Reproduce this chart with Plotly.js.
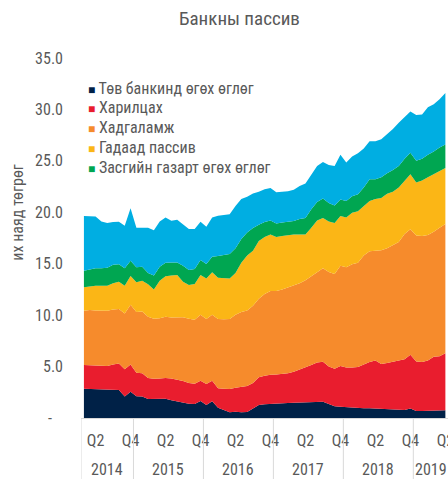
<!DOCTYPE html>
<html>
<head>
<meta charset="utf-8">
<script src="https://cdn.plot.ly/plotly-3.0.1.min.js"></script>
<style>html,body{margin:0;padding:0;background:#fff;}#chart{width:448px;height:479px;}</style>
</head>
<body>
<div id="chart"></div>
<script>
// Monthly periods (Apr 2014 – Jun 2019)
const months = [
 '2014-04','2014-05','2014-06','2014-07','2014-08','2014-09','2014-10','2014-11','2014-12',
 '2015-01','2015-02','2015-03','2015-04','2015-05','2015-06','2015-07','2015-08','2015-09','2015-10','2015-11','2015-12',
 '2016-01','2016-02','2016-03','2016-04','2016-05','2016-06','2016-07','2016-08','2016-09','2016-10','2016-11','2016-12',
 '2017-01','2017-02','2017-03','2017-04','2017-05','2017-06','2017-07','2017-08','2017-09','2017-10','2017-11','2017-12',
 '2018-01','2018-02','2018-03','2018-04','2018-05','2018-06','2018-07','2018-08','2018-09','2018-10','2018-11','2018-12',
 '2019-01','2019-02','2019-03','2019-04','2019-05','2019-06'
];

const years = ['2014','2015','2016','2017','2018','2019'];
const quarterTicks = ['2014-06','2014-12','2015-06','2015-12','2016-06','2016-12','2017-06','2017-12','2018-06','2018-12','2019-06'];
const quarterLabels = ['Q2','Q4','Q2','Q4','Q2','Q4','Q2','Q4','Q2','Q4','Q2'];

// Series values (их наяд төгрөг)
const tovBank = [2.85,2.83,2.78,2.72,2.70,2.72,2.72,2.10,2.55,2.12,2.10,1.85,1.85,1.85,1.88,1.72,1.60,1.52,1.38,1.36,1.65,1.26,1.62,1.00,0.75,0.55,0.60,0.55,0.58,0.90,1.26,1.33,1.38,1.42,1.45,1.46,1.48,1.50,1.52,1.55,1.57,1.57,1.35,1.15,1.10,1.05,1.00,0.97,0.94,0.94,0.92,0.90,0.88,0.82,0.78,0.78,0.92,0.68,0.68,0.68,0.70,0.72,0.75];
const kharilts = [2.30,2.29,2.32,2.36,2.35,2.48,2.58,2.65,2.65,2.28,2.25,2.05,1.97,2.00,2.02,2.13,2.15,2.08,2.02,1.97,1.98,2.05,2.01,1.90,2.10,2.27,2.35,2.45,2.52,2.50,2.69,2.77,2.82,2.80,2.80,2.89,3.02,3.20,3.43,3.60,3.83,3.90,3.65,3.65,3.95,3.87,3.92,3.98,4.26,4.51,4.68,4.35,4.47,4.63,4.77,4.92,5.23,4.82,4.77,4.92,5.25,5.28,5.55];
const khadgalamj = [5.28,5.38,5.35,5.35,5.38,5.35,5.30,5.40,5.80,5.90,6.00,5.95,5.83,5.85,5.95,5.93,6.05,6.20,6.25,6.23,6.41,6.31,6.41,6.72,6.75,6.80,7.10,7.30,7.35,7.51,7.65,7.95,8.15,8.13,8.25,8.35,8.45,8.40,8.45,8.65,8.80,9.08,9.20,9.20,9.75,9.73,10.03,10.15,10.60,10.75,10.65,11.05,11.15,11.35,11.55,12.20,12.20,12.25,12.25,12.20,12.15,12.50,12.55];
const gadaad = [2.27,2.30,2.41,2.43,2.43,2.55,2.64,2.71,2.80,2.90,3.00,3.15,2.85,3.65,3.92,4.07,4.10,3.45,3.27,3.47,3.86,3.94,4.14,4.01,4.03,3.94,4.05,4.80,5.35,5.35,5.60,5.55,5.50,5.25,5.20,5.10,4.90,4.75,4.45,4.70,5.00,4.90,4.90,4.95,4.85,4.85,5.00,5.00,4.80,4.90,5.05,5.10,5.30,5.20,5.30,5.20,5.35,5.15,5.40,5.60,5.60,5.50,5.45];
const zasgiin = [1.62,1.65,1.69,1.69,1.74,1.80,1.71,1.69,1.50,1.45,1.35,1.10,1.35,1.35,1.33,1.27,1.22,1.55,1.46,1.45,1.46,1.41,1.50,2.13,2.21,2.38,2.40,2.30,2.24,2.21,1.60,1.45,1.35,1.30,1.30,1.25,1.30,1.50,1.60,1.80,1.80,1.90,1.80,1.70,1.60,1.60,1.60,1.65,1.80,2.10,1.90,2.00,2.00,2.10,2.10,2.10,2.10,2.10,2.10,2.20,2.20,2.30,2.30];
const busad = [5.33,5.20,5.05,4.55,4.35,4.15,4.12,4.15,5.10,3.85,3.80,4.40,4.40,4.40,4.40,4.05,4.15,4.05,3.99,3.89,3.72,3.63,3.82,3.90,3.91,3.86,4.10,3.88,3.46,3.36,3.20,3.20,3.15,3.05,3.00,3.00,3.05,3.20,3.35,3.40,3.50,3.55,3.70,3.85,4.35,3.75,3.88,4.00,3.80,3.70,3.70,3.70,3.80,4.00,4.20,4.10,4.00,4.45,4.30,4.60,4.60,4.70,5.00];

const seriesNames = ['Төв банкинд өгөх өглөг','Харилцах','Хадгаламж','Гадаад пассив','Засгийн газарт өгөх өглөг','Бусад'];
const seriesColors = ['#002147','#E91D2E','#F68B2C','#FBB616','#00A651','#00AEE2'];
const seriesData = [tovBank, kharilts, khadgalamj, gadaad, zasgiin, busad];
const legendCount = 5;

const FONT = '"Liberation Sans Narrow", "Roboto Condensed", Roboto, sans-serif';
const GRAY = '#595959';

const traces = seriesData.map((vals, k) => ({
  type: 'scatter',
  mode: 'lines',
  x: months,
  y: vals,
  name: seriesNames[k],
  stackgroup: 'one',
  line: {width: 0, color: seriesColors[k]},
  fillcolor: seriesColors[k],
  showlegend: false,
  hoverinfo: 'x+y+name'
}));

// Year divider lines and year labels below the axis
const shapes = [];
const annotations = [];
years.forEach(yr => {
  const first = months.findIndex(m => m.startsWith(yr));
  let last = -1;
  months.forEach((m, i) => { if (m.startsWith(yr)) last = i; });
  shapes.push({type:'line', xref:'x', yref:'paper', x0:first-0.5, x1:first-0.5, y0:0, y1:-0.2,
               line:{color:'#d9d9d9', width:1}});
  annotations.push({xref:'x', yref:'paper', x:(first+last)/2, y:-0.143, yanchor:'middle',
                    text: yr, showarrow:false, font:{family:FONT, size:16, color:GRAY}});
});

// Legend as text entries
for (let k = 0; k < legendCount; k++) {
  annotations.push({
    xref:'paper', yref:'paper', x:0.0136, y:0.916 - k*0.0547, xanchor:'left', yanchor:'middle',
    text:'<span style="color:' + seriesColors[k] + ';font-size:12px">■</span> ' + seriesNames[k],
    showarrow:false, font:{family:FONT, size:16, color:GRAY}
  });
}

// Y-axis title
annotations.push({xref:'paper', yref:'paper', x:-0.1717, y:0.573, xanchor:'center', yanchor:'middle',
  textangle:-90, text:'их наяд төгрөг', showarrow:false, font:{family:FONT, size:16, color:GRAY}});

const yTicks = [0,5,10,15,20,25,30,35];
const yTickText = ['-\u00a0\u00a0\u00a0','5.0','10.0','15.0','20.0','25.0','30.0','35.0'];

const layout = {
  width: 448, height: 479,
  margin: {l:81, r:0, t:58, b:61, pad:0},
  paper_bgcolor:'#fff', plot_bgcolor:'#fff',
  font: {family: FONT, color: GRAY, size: 16},
  title: {text:'Банкны пассив', x:0.5346, xref:'container', xanchor:'center', y:0.962, yref:'container', yanchor:'middle',
          font:{family:FONT, size:19, color:GRAY}},
  showlegend: false,
  xaxis: {
    type:'category', range:[-0.5, 62.45], tickmode:'array', tickvals: quarterTicks, ticktext: quarterLabels,
    showgrid:false, zeroline:false, showline:true, linecolor:'#d9d9d9', linewidth:1, ticks:'',
    tickfont:{family:FONT, size:16, color:GRAY}, ticklabelstandoff:8, fixedrange:true
  },
  yaxis: {
    range:[0,35], tickmode:'array', tickvals:yTicks, ticktext:yTickText, showgrid:false, zeroline:false,
    showline:false, ticks:'', tickfont:{family:FONT, size:16, color:GRAY}, ticklabelstandoff:17, fixedrange:true
  },
  shapes: shapes,
  annotations: annotations
};

Plotly.newPlot('chart', traces, layout, {displayModeBar:false, staticPlot:true});
</script>
</body>
</html>
